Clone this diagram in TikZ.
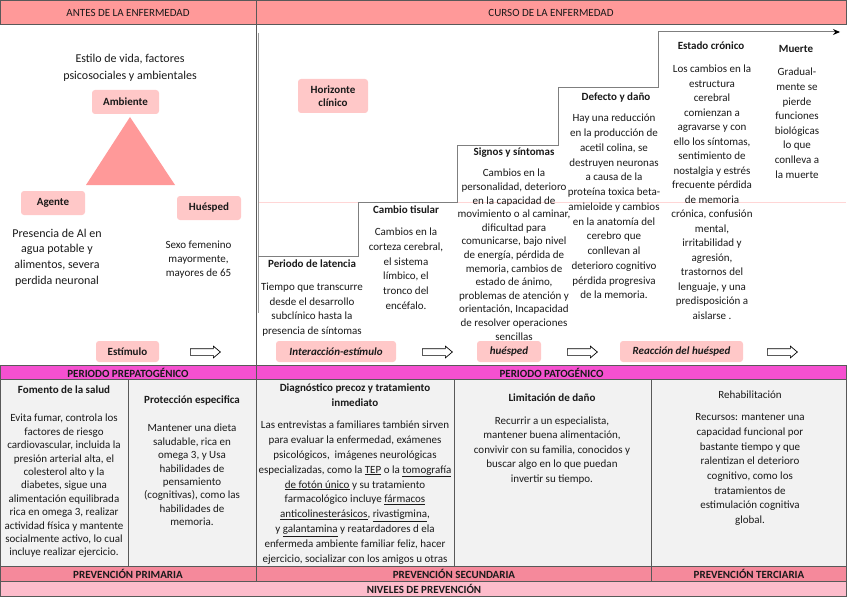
\documentclass[tikz,border=0pt]{standalone}
\usepackage{fontspec}
\setmainfont{Carlito}
\usetikzlibrary{shapes.arrows,arrows.meta}
\definecolor{hdrpink}{HTML}{FF9999}
\definecolor{lblpink}{HTML}{FFC8C8}
\definecolor{magrow}{HTML}{F550D0}
\definecolor{prevpink}{HTML}{F5899B}
\definecolor{nivpink}{HTML}{FDBCCB}
\definecolor{cellgray}{HTML}{F2F2F2}
\definecolor{bord}{HTML}{595959}
\definecolor{txtc}{HTML}{1A1A1A}
\definecolor{stairc}{HTML}{7F7F7F}
\definecolor{faintpink}{HTML}{FFD6D6}
\tikzset{
  bx/.style={draw=bord, line width=0.7pt},
  lbl/.style={fill=lblpink, rounded corners=3pt, font=\fontsize{11}{13}\selectfont\bfseries, text=txtc, inner sep=0pt, align=center},
  txt/.style={font=\fontsize{11}{#1}\selectfont, align=center, inner sep=0pt, anchor=north, text=txtc},
  txt/.default=14.5,
  bigtxt/.style={font=\fontsize{12}{#1}\selectfont, align=center, inner sep=0pt, anchor=north, text=txtc},
  ttl/.style={font=\fontsize{11}{#1}\selectfont\bfseries, align=center, inner sep=0pt, anchor=north, text=txtc},
  ttl/.default=13,
  hollow/.style={single arrow, draw=black, fill=white, line width=0.7pt, minimum height=30pt, inner xsep=0pt, inner ysep=3pt, single arrow head extend=2.5pt, single arrow tip angle=80, anchor=west},
  rowlbl/.style={font=\fontsize{11}{12}\selectfont\bfseries, text=txtc, inner sep=0pt},
  hdrlbl/.style={font=\fontsize{11}{12}\selectfont, text=txtc, inner sep=0pt},
  stair/.style={draw=stairc, line width=1pt},
}
\begin{document}
\begin{tikzpicture}[x=1pt,y=-1pt]
\useasboundingbox[fill=white] (0,0) rectangle (848,599);

% ---------- headers ----------
\path[bx, fill=hdrpink] (0,0) rectangle (256.5,24);
\path[bx, fill=hdrpink] (256.5,0) rectangle (846,24);
\node[hdrlbl] (hAntes) at (128,12.5) {ANTES DE LA ENFERMEDAD};
\node[hdrlbl] (hCurso) at (551,12.5) {CURSO DE LA ENFERMEDAD};
\draw[bord, line width=0.7pt] (256.5,24) -- (256.5,365);

% ---------- faint pink line ----------
\draw[faintpink, line width=0.8pt] (258,202) -- (846,202);

% ---------- staircase ----------
\draw[stair, line width=1.8pt, draw=stairc!80] (258.5,33) -- (258.5,313);
\coordinate (s0) at (258,256);
\coordinate (s1) at (358,256);
\coordinate (s2) at (358,202);
\coordinate (s3) at (457,202);
\coordinate (s4) at (457,145);
\coordinate (s5) at (558,145);
\coordinate (s6) at (558,88);
\coordinate (s7) at (658,88);
\coordinate (s8) at (658,32);
\coordinate (s9) at (840,32);
\draw[stair, -{Stealth[length=7pt,width=6pt,color=black]}] (s0) -- (s1) -- (s2) -- (s3) -- (s4) -- (s5) -- (s6) -- (s7) -- (s8) -- (s9);

% ---------- left panel ----------
\node[bigtxt=17] (estilo) at (130,53.5) {Estilo de vida, factores\\psicosociales y ambientales};
\node[lbl, minimum width=67pt, minimum height=24pt] (amb) at (125.5,102) {Ambiente};
\fill[hdrpink] (130,117) -- (86,185) -- (175,185) -- cycle;
\node[lbl, minimum width=64pt, minimum height=24pt] (agente) at (53,203) {Agente};
\node[lbl, minimum width=64pt, minimum height=24pt] (huesA) at (209,208) {Huésped};
\node[bigtxt=15.7] (pres) at (57,228.5) {Presencia de Al en\\agua potable y\\alimentos, severa\\perdida neuronal};
\node[txt=14.3] (sexo) at (198.5,240.5) {Sexo femenino\\mayormente,\\mayores de 65};
\node[lbl, minimum width=63pt, minimum height=21pt] (estim) at (127.5,351.5) {Estímulo};
\node[hollow] (ar1) at (190,352) {};

% ---------- right panel ----------
\node[lbl, minimum width=70pt, minimum height=34pt] (horiz) at (333,96) {Horizonte\\clínico};
\node[ttl] (lat) at (312,259.5) {Periodo de latencia};
\node[txt=14.6] (latt) at (312,283) {Tiempo que transcurre\\desde el desarrollo\\subclínico hasta la\\presencia de síntomas};
\node[ttl] (tis) at (406,205.5) {Cambio tisular};
\node[txt=14.7] (tist) at (406,228) {Cambios en la\\corteza cerebral,\\el sistema\\límbico, el\\tronco del\\encéfalo.};
\node[ttl] (sig) at (514,147.5) {Signos y síntomas};
\node[txt=13.6] (sigt) at (514,169) {Cambios en la\\personalidad, deterioro\\en la capacidad de\\movimiento o al caminar,\\dificultad para\\comunicarse, bajo nivel\\de energía, pérdida de\\memoria, cambios de\\estado de ánimo,\\problemas de atención y\\orientación, Incapacidad\\de resolver operaciones\\sencillas};
\node[ttl] (def) at (616,92.5) {Defecto y daño};
\node[txt=14.75] (deft) at (614,114) {Hay una reducción\\en la producción de\\acetil colina, se\\destruyen neuronas\\a causa de la\\proteína toxica beta-\\amieloide y cambios\\en la anatomía del\\cerebro que\\conllevan al\\deterioro cognitivo\\pérdida progresiva\\de la memoria.};
\node[ttl] (cron) at (711,41.5) {Estado crónico};
\node[txt=14.5] (cront) at (712,65) {Los cambios en la\\estructura\\cerebral\\comienzan a\\agravarse y con\\ello los síntomas,\\sentimiento de\\nostalgia y estrés\\frecuente pérdida\\de memoria\\crónica, confusión\\mental,\\irritabilidad y\\agresión,\\trastornos del\\lenguaje, y una\\predisposición a\\aislarse .};
\node[ttl] (muer) at (796,45.5) {Muerte};
\node[txt=14.6] (muert) at (797,68) {Gradual-\\mente se\\pierde\\funciones\\biológicas\\lo que\\conlleva a\\la muerte};

\node[lbl, font=\fontsize{11}{13}\selectfont\bfseries\itshape, minimum width=120pt, minimum height=21pt] (inter) at (336,351.5) {Interacción-estímulo};
\node[hollow] (ar2) at (422,352) {};
\node[lbl, font=\fontsize{11}{13}\selectfont\bfseries\itshape, minimum width=64pt, minimum height=21pt] (huesB) at (509,351.5) {huésped};
\node[hollow] (ar3) at (567,352) {};
\node[lbl, font=\fontsize{11}{13}\selectfont\bfseries\itshape, minimum width=123pt, minimum height=21pt] (reac) at (681.5,351.5) {Reacción del huésped};
\node[hollow] (ar4) at (767,352) {};

% ---------- lower table ----------
\path[bx, fill=magrow] (0,365) rectangle (256.5,379.5);
\path[bx, fill=magrow] (256.5,365) rectangle (846,379.5);
\node[rowlbl] (pPre) at (128,372.5) {PERIODO PREPATOGÉNICO};
\node[rowlbl] (pPat) at (551.5,372.5) {PERIODO PATOGÉNICO};

\path[bx, fill=cellgray] (0,379.5) rectangle (128,566);
\path[bx, fill=cellgray] (128,379.5) rectangle (256.5,566);
\path[bx, fill=cellgray] (256.5,379.5) rectangle (454,566);
\path[bx, fill=cellgray] (454,379.5) rectangle (651,566);
\path[bx, fill=cellgray] (651,379.5) rectangle (846,566);

\path[bx, fill=prevpink] (0,566) rectangle (256.5,581);
\path[bx, fill=prevpink] (256.5,566) rectangle (651,581);
\path[bx, fill=prevpink] (651,566) rectangle (846,581);
\node[rowlbl] (prim) at (128,573.5) {PREVENCIÓN PRIMARIA};
\node[rowlbl] (secu) at (454,573.5) {PREVENCIÓN SECUNDARIA};
\node[rowlbl] (terc) at (749,573.5) {PREVENCIÓN TERCIARIA};

\path[bx, fill=nivpink] (0,581) rectangle (846,596);
\node[rowlbl] (nivel) at (424,588.5) {NIVELES DE PREVENCIÓN};

\node[ttl] (fom) at (64,385.5) {Fomento de la salud};
\node[txt=13.4] (fomt) at (64,414) {Evita fumar, controla los\\factores de riesgo\\cardiovascular, incluida la\\presión arterial alta, el\\colesterol alto y la\\diabetes, sigue una\\alimentación equilibrada\\rica en omega 3, realizar\\actividad física y mantente\\socialmente activo, lo cual\\incluye realizar ejercicio.};
\node[ttl] (prot) at (192,395.5) {Protección especifica};
\node[txt=13.4] (prott) at (192,424) {Mantener una dieta\\saludable, rica en\\omega 3, y Usa\\habilidades de\\pensamiento\\(cognitivas), como las\\habilidades de\\memoria.};
\node[ttl=15.5] (diag) at (355,383.5) {Diagnóstico precoz y tratamiento\\inmediato};
\node[txt=14.8] (diagt) at (355,421) {Las entrevistas a familiares también sirven\\para evaluar la enfermedad, exámenes\\psicológicos,\ \ imágenes neurológicas\\especializadas, como la \underline{TEP} o la \underline{tomografía}\\\underline{de fotón único} y su tratamiento\\farmacológico incluye \underline{fármacos}\\\underline{anticolinesterásicos}, \underline{rivastigmina},\\y \underline{galantamina} y reatardadores d ela\\enfermeda ambiente familiar feliz, hacer\\ejercicio, socializar con los amigos u otras};
\node[ttl] (lim) at (552,393.5) {Limitación de daño};
\node[txt=14.5] (limt) at (552,416.5) {Recurrir a un especialista,\\mantener buena alimentación,\\convivir con su familia, conocidos y\\buscar algo en lo que puedan\\invertir su tiempo.};
\node[txt] (reh) at (750,390.5) {Rehabilitación};
\node[txt=14.7] (reht) at (750,413.5) {Recursos: mantener una\\capacidad funcional por\\bastante tiempo y que\\ralentizan el deterioro\\cognitivo, como los\\tratamientos de\\estimulación cognitiva\\global.};
\end{tikzpicture}
\end{document}
